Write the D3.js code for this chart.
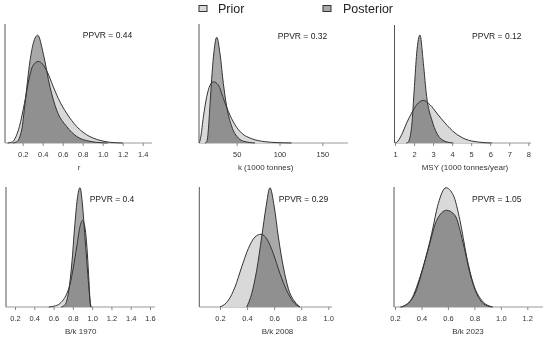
<!DOCTYPE html>
<html>
<head>
<meta charset="utf-8">
<script src="https://cdn.jsdelivr.net/npm/d3@7"></script>
<style>
  body { margin: 0; background: #fff; }
  svg { display: block; font-family: "Liberation Sans", Arial, sans-serif; }
</style>
</head>
<body>
<svg id="chart" width="550" height="338"></svg>
<script>
// density curves: [x, relative density]
const rPrior = [[0.05,0],[0.1,0.01],[0.133,0.055],[0.167,0.138],[0.217,0.331],[0.267,0.552],[0.30,0.646],[0.357,0.685],[0.44,0.608],[0.507,0.47],[0.573,0.345],[0.64,0.249],[0.74,0.138],[0.84,0.069],[0.973,0.022],[1.073,0.006],[1.2,0]];
const rPost = [[0.1,0],[0.14,0.01],[0.19,0.11],[0.223,0.331],[0.273,0.69],[0.307,0.842],[0.35,0.906],[0.407,0.746],[0.473,0.47],[0.54,0.276],[0.64,0.138],[0.74,0.055],[0.873,0.014],[0.973,0.003],[1.05,0]];

const kPrior = [[6.2,0],[6.5,0.005],[8,0.05],[11.1,0.22],[15,0.389],[18.9,0.486],[22.8,0.514],[28.6,0.486],[34.4,0.375],[40.3,0.264],[48,0.153],[55.8,0.083],[67.5,0.036],[83,0.011],[98.6,0.003],[114,0]];
const kPost = [[13,0],[15,0.01],[17,0.12],[18.9,0.333],[22.8,0.722],[26.7,0.889],[30.5,0.75],[34.4,0.5],[38.3,0.306],[44.2,0.139],[51.9,0.042],[59.7,0.011],[71.4,0]];

const msyPrior = [[1.0,0],[1.09,0.006],[1.35,0.07],[1.61,0.169],[1.875,0.254],[2.14,0.324],[2.49,0.361],[2.84,0.324],[3.19,0.254],[3.63,0.169],[4.15,0.085],[4.68,0.034],[5.38,0.008],[6.08,0]];
const msyPost = [[1.6,0],[1.7,0.01],[1.875,0.141],[2.02,0.479],[2.14,0.761],[2.31,0.915],[2.49,0.676],[2.66,0.394],[2.93,0.197],[3.19,0.085],[3.63,0.014],[4.06,0]];

const bk1970Prior = [[0.55,0],[0.6,0.006],[0.667,0.03],[0.736,0.11],[0.771,0.19],[0.805,0.33],[0.84,0.5],[0.874,0.67],[0.9,0.722],[0.926,0.66],[0.95,0.45],[0.968,0.2],[0.98,0.03],[0.985,0]];
const bk1970Post = [[0.68,0],[0.72,0.02],[0.76,0.15],[0.788,0.35],[0.82,0.68],[0.846,0.9],[0.874,0.994],[0.9,0.85],[0.922,0.62],[0.945,0.38],[0.965,0.17],[0.98,0.04],[0.99,0]];

const bk2008Prior = [[0.2,0],[0.262,0.056],[0.311,0.167],[0.36,0.333],[0.409,0.486],[0.458,0.583],[0.503,0.606],[0.545,0.569],[0.594,0.444],[0.643,0.278],[0.692,0.139],[0.742,0.042],[0.791,0]];
const bk2008Post = [[0.397,0],[0.434,0.111],[0.471,0.306],[0.508,0.583],[0.54,0.833],[0.569,0.994],[0.601,0.833],[0.631,0.583],[0.668,0.333],[0.705,0.153],[0.754,0.042],[0.791,0]];

const bk2023Prior = [[0.25,0],[0.276,0.014],[0.351,0.111],[0.414,0.333],[0.477,0.611],[0.527,0.861],[0.585,0.994],[0.641,0.931],[0.691,0.722],[0.742,0.417],[0.792,0.194],[0.855,0.056],[0.918,0.006],[0.94,0]];
const bk2023Post = [[0.24,0],[0.263,0.006],[0.326,0.069],[0.389,0.25],[0.452,0.486],[0.515,0.722],[0.59,0.806],[0.653,0.764],[0.716,0.528],[0.767,0.278],[0.817,0.111],[0.868,0.028],[0.93,0]];

const rTicks = [0.2, 0.4, 0.6, 0.8, 1.0, 1.2, 1.4];
const kTicks = [50, 100, 150];
const msyTicks = [1, 2, 3, 4, 5, 6, 7, 8];
const bk1970Ticks = [0.2, 0.4, 0.6, 0.8, 1.0, 1.2, 1.4, 1.6];
const bk2008Ticks = [0.2, 0.4, 0.6, 0.8, 1.0];
const bk2023Ticks = [0.2, 0.4, 0.6, 0.8, 1.0, 1.2];

const titles = ["r", "k (1000 tonnes)", "MSY (1000 tonnes/year)", "B/k 1970", "B/k 2008", "B/k 2023"];
const ppvr = [0.44, 0.32, 0.12, 0.4, 0.29, 1.05];

const panels = [
  { prior: rPrior, post: rPost, ticks: rTicks, fmt: ".1f", dom: [0.2, 1.4], rng: [22.7, 142.7], x0: 5, x1: 152, top: 24, base: 143, tx: 79, px: 107.5, py: 35 },
  { prior: kPrior, post: kPost, ticks: kTicks, fmt: "d", dom: [50, 150], rng: [236.7, 322.3], x0: 199, x1: 348, top: 24, base: 143, tx: 265.7, px: 302.5, py: 35.5 },
  { prior: msyPrior, post: msyPost, ticks: msyTicks, fmt: "d", dom: [1, 8], rng: [395, 528.3], x0: 394.5, x1: 531, top: 25, base: 143, tx: 465, px: 496.8, py: 35.5 },
  { prior: bk1970Prior, post: bk1970Post, ticks: bk1970Ticks, fmt: ".1f", dom: [0.2, 1.6], rng: [15, 150], x0: 6, x1: 155, top: 187, base: 307, tx: 80.7, px: 112, py: 199 },
  { prior: bk2008Prior, post: bk2008Post, ticks: bk2008Ticks, fmt: ".1f", dom: [0.2, 1.0], rng: [220, 328.3], x0: 199.3, x1: 332, top: 187, base: 307, tx: 277.5, px: 303.5, py: 199 },
  { prior: bk2023Prior, post: bk2023Post, ticks: bk2023Ticks, fmt: ".1f", dom: [0.2, 1.2], rng: [395, 527.3], x0: 394, x1: 543, top: 187, base: 307, tx: 468, px: 496.8, py: 199 }
];

const priorFill = "#d9d9d9", postFill = "#a9a9a9", lineCol = "#333";

const svg = d3.select("#chart");

panels.forEach((p, i) => {
  const g = svg.append("g");
  const x = d3.scaleLinear().domain(p.dom).range(p.rng);
  const y = d3.scaleLinear().domain([0, 1]).range([p.base, p.top]);

  const area = d3.area()
    .x(d => x(d[0]))
    .y0(p.base)
    .y1(d => y(d[1]))
    .curve(d3.curveMonotoneX);
  const line = d3.line()
    .x(d => x(d[0]))
    .y(d => y(d[1]))
    .curve(d3.curveMonotoneX);

  // axes lines
  g.append("line")
    .attr("x1", p.x0).attr("x2", p.x0)
    .attr("y1", p.top).attr("y2", p.base)
    .attr("stroke", "#555").attr("stroke-width", 1);
  g.append("line")
    .attr("x1", p.x0).attr("x2", p.x1)
    .attr("y1", p.base).attr("y2", p.base)
    .attr("stroke", "#999").attr("stroke-width", 1);

  g.append("path").datum(p.prior)
    .attr("d", area)
    .attr("fill", priorFill);
  g.append("path").datum(p.post)
    .attr("d", area)
    .attr("fill", postFill)
    .style("mix-blend-mode", "multiply");

  g.append("path").datum(p.prior)
    .attr("d", line)
    .attr("fill", "none")
    .attr("stroke", lineCol)
    .attr("stroke-width", 1);
  g.append("path").datum(p.post)
    .attr("d", line)
    .attr("fill", "none")
    .attr("stroke", lineCol)
    .attr("stroke-width", 1);

  const ax = g.append("g")
    .attr("transform", `translate(0,${p.base})`)
    .call(d3.axisBottom(x).tickValues(p.ticks).tickFormat(d3.format(p.fmt)).tickSize(3).tickPadding(6));
  ax.select(".domain").remove();
  ax.selectAll("line").attr("stroke", "#888");
  ax.selectAll("text")
    .attr("fill", "#333")
    .style("font-size", "7.5px")
    .style("font-family", "Liberation Sans, Arial, sans-serif");

  g.append("text")
    .attr("x", p.tx)
    .attr("y", p.base + 27)
    .attr("text-anchor", "middle")
    .attr("fill", "#333")
    .style("font-size", "8px")
    .text(titles[i]);

  g.append("text")
    .attr("x", p.px)
    .attr("y", p.py)
    .attr("text-anchor", "middle")
    .attr("dominant-baseline", "central")
    .attr("fill", "#222")
    .style("font-size", "8.5px")
    .text("PPVR = " + ppvr[i]);
});

// legend
const legend = [
  { name: "Prior", fill: priorFill, bx: 199, tx: 218 },
  { name: "Posterior", fill: postFill, bx: 323, tx: 343 }
];
legend.forEach(l => {
  svg.append("rect")
    .attr("x", l.bx).attr("y", 5.5)
    .attr("width", 8).attr("height", 6)
    .attr("fill", l.fill)
    .attr("stroke", "#333").attr("stroke-width", 1);
  svg.append("text")
    .attr("x", l.tx).attr("y", 13)
    .attr("fill", "#222")
    .style("font-size", "12.5px")
    .text(l.name);
});
</script>
</body>
</html>
